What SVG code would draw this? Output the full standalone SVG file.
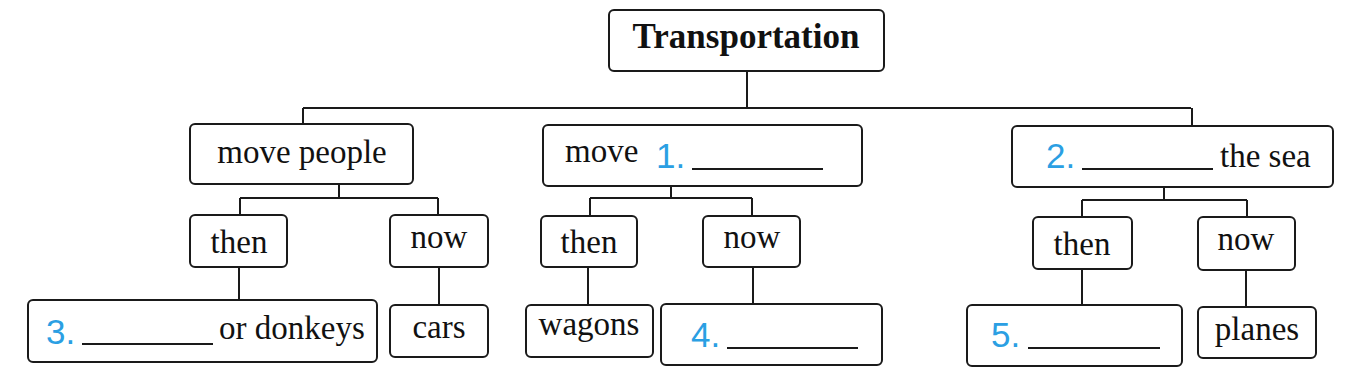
<svg xmlns="http://www.w3.org/2000/svg" width="1364" height="380" viewBox="0 0 1364 380">
<style>
.box{fill:#fff;stroke:#1a1a1a;stroke-width:2}
.ln{stroke:#1a1a1a;stroke-width:2;fill:none}
.t{font-family:"Liberation Serif","Times New Roman",serif;font-size:33px;fill:#111;text-anchor:middle}
.tl{font-family:"Liberation Serif","Times New Roman",serif;font-size:33px;fill:#111}
.ttl{font-family:"Liberation Serif","Times New Roman",serif;font-size:35px;font-weight:bold;fill:#111;text-anchor:middle}
.num{font-family:"Liberation Sans",Arial,sans-serif;font-size:35px;fill:#2b9fe3}
.blank{stroke:#1a1a1a;stroke-width:2}
</style>
<rect width="1364" height="380" fill="#fff"/>
<g id="connectors">
<path class="ln" d="M747 71V108M303 108H1191M303 108V124M1192 108V126"/>
<path class="ln" d="M339 184V198M240 198H438M240 198V215M438 198V215M239 267V300M439 267V305"/>
<path class="ln" d="M671 186V198M590 198H752M590 198V216M752 198V216M588 267V305M753 267V304"/>
<path class="ln" d="M1164 187V200M1082 200H1247M1082 200V217M1247 200V217M1082 269V305M1246 270V307"/>
</g>
<g id="transportation"><rect class="box" x="609" y="10" width="275" height="61" rx="5"/><text class="ttl" x="746" y="48">Transportation</text></g>
<g id="move-people"><rect class="box" x="190" y="124" width="223" height="60" rx="5"/><text class="t" x="302" y="163">move people</text></g>
<g id="move-1"><rect class="box" x="543" y="125" width="319" height="61" rx="5"/><text class="tl" x="565" y="162">move</text><text class="num" x="656" y="168">1.</text><line class="blank" x1="692" y1="169" x2="823" y2="169"/></g>
<g id="sea-2"><rect class="box" x="1012" y="126" width="321" height="61" rx="5"/><text class="num" x="1046" y="168">2.</text><line class="blank" x1="1082" y1="169" x2="1213" y2="169"/><text class="tl" x="1220" y="167">the sea</text></g>
<g id="then-1"><rect class="box" x="190" y="215" width="97" height="52" rx="5"/><text class="t" x="239" y="253">then</text></g>
<g id="now-1"><rect class="box" x="390" y="215" width="98" height="52" rx="5"/><text class="t" x="439" y="248">now</text></g>
<g id="then-2"><rect class="box" x="541" y="216" width="96" height="51" rx="5"/><text class="t" x="589" y="253">then</text></g>
<g id="now-2"><rect class="box" x="703" y="216" width="97" height="51" rx="5"/><text class="t" x="752" y="248">now</text></g>
<g id="then-3"><rect class="box" x="1033" y="217" width="99" height="52" rx="5"/><text class="t" x="1082" y="255">then</text></g>
<g id="now-3"><rect class="box" x="1198" y="217" width="97" height="53" rx="5"/><text class="t" x="1246" y="250">now</text></g>
<g id="donkeys-3"><rect class="box" x="28" y="300" width="349" height="62" rx="5"/><text class="num" x="46" y="344">3.</text><line class="blank" x1="82" y1="344" x2="213" y2="344"/><text class="tl" x="219" y="339">or donkeys</text></g>
<g id="cars"><rect class="box" x="390" y="305" width="98" height="52" rx="5"/><text class="t" x="439" y="338">cars</text></g>
<g id="wagons"><rect class="box" x="526" y="305" width="127" height="52" rx="5"/><text class="t" x="589" y="335">wagons</text></g>
<g id="blank-4"><rect class="box" x="661" y="304" width="221" height="61" rx="5"/><text class="num" x="691" y="347">4.</text><line class="blank" x1="727" y1="348" x2="858" y2="348"/></g>
<g id="blank-5"><rect class="box" x="967" y="305" width="215" height="61" rx="5"/><text class="num" x="991" y="347">5.</text><line class="blank" x1="1028" y1="348" x2="1160" y2="348"/></g>
<g id="planes"><rect class="box" x="1198" y="307" width="118" height="51" rx="5"/><text class="t" x="1257" y="340">planes</text></g>
</svg>
